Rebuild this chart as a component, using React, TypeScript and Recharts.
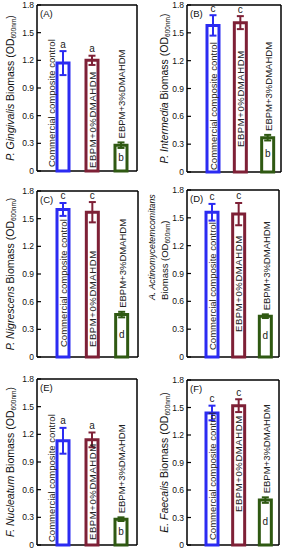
import React from 'react';
import { BarChart, Bar, XAxis, YAxis, ErrorBar, CartesianGrid, LabelList, Label } from 'recharts';

const groups = ['Commercial composite control', 'EBPM+0%DMAHDM', 'EBPM+3%DMAHDM'];
const yTicks = [0, 0.3, 0.6, 0.9, 1.2, 1.5, 1.8];
const panelTags = ['(A)', '(B)', '(C)', '(D)', '(E)', '(F)'];
const species = ['P. Gingivalis', 'P. Intermedia', 'P. Nigrescens', 'A. Actinomycetemcomitans', 'F. Nucleatum', 'E. Faecalis'];

// biomass OD600 means / std dev / significance letters
const meanA = [1.17, 1.2, 0.28];
const errA = [0.13, 0.05, 0.03];
const letA = ['a', 'a', 'b'];
const meanB = [1.58, 1.61, 0.37];
const errB = [0.11, 0.07, 0.03];
const letB = ['c', 'c', 'b'];
const meanC = [1.6, 1.57, 0.46];
const errC = [0.07, 0.11, 0.03];
const letC = ['c', 'c', 'd'];
const meanD = [1.56, 1.54, 0.44];
const errD = [0.09, 0.12, 0.02];
const letD = ['c', 'c', 'd'];
const meanE = [1.13, 1.14, 0.28];
const errE = [0.14, 0.08, 0.02];
const letE = ['a', 'a', 'b'];
const meanF = [1.44, 1.52, 0.49];
const errF = [0.08, 0.07, 0.03];
const letF = ['c', 'c', 'd'];

const means = [meanA, meanB, meanC, meanD, meanE, meanF];
const errs = [errA, errB, errC, errD, errE, errF];
const letters = [letA, letB, letC, letD, letE, letF];

const colors = ['#2b2bf2', '#7e2036', '#2f5912'];
const FONT = '"Liberation Sans", Arial, Helvetica, sans-serif';
const YW = 20;

// x0: panel column, L/R/T/B: plot frame in page px
const layout = [
  { x0: 0, L: 37, R: 137, T: 5, B: 171, padL: 11, padR: 2, labX: 10, blueDx: -12, blueGap: 4, redGap: 3 },
  { x0: 144, L: 187, R: 281, T: 5, B: 172, padL: 12, padR: 0, labX: 20, blueDx: 0, blueGap: 2, redGap: 25 },
  { x0: 0, L: 37, R: 138, T: 191, B: 357, padL: 11, padR: 2, labX: 10, blueDx: 0, blueGap: 10, redGap: 10 },
  { x0: 144, L: 187, R: 279, T: 190, B: 357, padL: 12, padR: 0, labX: 8, blueDx: 0, blueGap: 7, redGap: 25 },
  { x0: 0, L: 37, R: 137, T: 379, B: 545, padL: 11, padR: 2, labX: 10, blueDx: -12, blueGap: 3, redGap: 5 },
  { x0: 144, L: 187, R: 279, T: 380, B: 545, padL: 12, padR: 0, labX: 20, blueDx: 0, blueGap: 5, redGap: 33 },
];

function YLabel({ p, top, h }: { p: number; top: number; h: number }) {
  const lay = layout[p];
  const cy = top + h / 2;
  const tag = (
    <text x={lay.L - lay.x0 + 3} y={top + 8} fontSize={9.5} fontFamily={FONT} fill="#111" dominantBaseline="central">
      {panelTags[p]}
    </text>
  );
  const biomass = (
    <>
      <tspan> Biomass (OD</tspan>
      <tspan fontSize={6.5} dy={3}>600nm</tspan>
      <tspan dy={-3}>)</tspan>
    </>
  );
  if (p === 3) {
    // two-line label, both lines starting from the same point
    const sy = top + h - 57;
    return (
      <g>
        {tag}
        <text x={lay.labX} y={sy} transform={`rotate(-90 ${lay.labX} ${sy})`} textAnchor="start" dominantBaseline="central" fontSize={8.8} fontFamily={FONT} fill="#111">
          <tspan fontStyle="italic">{species[p]}</tspan>
        </text>
        <text x={lay.labX + 12} y={sy} transform={`rotate(-90 ${lay.labX + 12} ${sy})`} textAnchor="start" dominantBaseline="central" fontSize={9.5} fontFamily={FONT} fill="#111">
          {biomass}
        </text>
      </g>
    );
  }
  return (
    <g>
      {tag}
      <text x={lay.labX} y={cy} transform={`rotate(-90 ${lay.labX} ${cy})`} textAnchor="middle" dominantBaseline="central" fontSize={10.5} fontFamily={FONT} fill="#111">
        <tspan fontStyle="italic">{species[p]}</tspan>
        {biomass}
      </text>
    </g>
  );
}

function Panel({ p }: { p: number }) {
  const lay = layout[p];
  const m = means[p];
  const e = errs[p];
  const rows = groups.map((g, i) => ({ name: g, [`v${i}`]: m[i], [`e${i}`]: e[i] }));
  const h = lay.B - lay.T;

  const barLabel = (i: number) => (props: any) => {
    const { x, y, width, height } = props;
    if (!height || height <= 0) return null;
    const k = height / m[i];
    const cx = x + width / 2;
    const bottom = y + height;
    const errTop = y - e[i] * k;
    let tx = cx;
    let ty = bottom - lay.redGap;
    if (i === 0) {
      tx = cx + lay.blueDx;
      ty = bottom - lay.blueGap;
    } else if (i === 2) {
      tx = cx + 1;
      ty = errTop - 4;
    }
    const ly = i < 2 ? errTop - 7 : y + height / 2 - 1;
    return (
      <g>
        <text x={tx} y={ty} transform={`rotate(-90 ${tx} ${ty})`} textAnchor="start" dominantBaseline="central" fontSize={9.5} fontFamily={FONT} fill="#222" letterSpacing={i === 1 ? 0.6 : 0}>
          {groups[i]}
        </text>
        <text x={cx} y={ly} textAnchor="middle" dominantBaseline="central" fontSize={10} fontFamily={FONT} fill="#222">
          {letters[p][i]}
        </text>
      </g>
    );
  };

  return (
    <div style={{ position: 'absolute', left: lay.x0, top: lay.T - 5 }}>
      <BarChart
        width={144}
        height={h + 10}
        data={rows}
        barSize={12}
        margin={{ top: 5, bottom: 5, left: lay.L - lay.x0 - YW, right: lay.x0 + 144 - lay.R }}
      >
        <CartesianGrid
          stroke="#000"
          strokeWidth={1.5}
          horizontalCoordinatesGenerator={({ offset }: any) => [offset.top, offset.top + offset.height]}
          verticalCoordinatesGenerator={({ offset }: any) => [offset.left, offset.left + offset.width]}
        />
        <XAxis dataKey="name" hide padding={{ left: lay.padL, right: lay.padR }} />
        <YAxis
          type="number"
          domain={[0, 1.8]}
          ticks={yTicks}
          interval={0}
          width={YW}
          axisLine={false}
          tickSize={-4}
          tickMargin={7}
          tickLine={{ stroke: '#000', strokeWidth: 1.2 }}
          tick={{ fontSize: 8.5, fontFamily: FONT, fill: '#111' }}
          tickFormatter={(v: number) => (v === 0 ? '0' : v.toFixed(1))}
        >
          <Label content={() => <YLabel p={p} top={5} h={h} />} />
        </YAxis>
        {[0, 1, 2].map((i) => (
          <Bar key={i} dataKey={`v${i}`} stackId="s" fill="#fff" stroke={colors[i]} strokeWidth={3} isAnimationActive={false}>
            <ErrorBar dataKey={`e${i}`} width={3.5} strokeWidth={2} stroke={colors[i]} />
            <LabelList content={barLabel(i)} />
          </Bar>
        ))}
      </BarChart>
    </div>
  );
}

export default function App() {
  return (
    <div style={{ position: 'absolute', left: 0, top: 0, width: 288, height: 550, background: '#fff' }}>
      {[0, 1, 2, 3, 4, 5].map((p) => (
        <Panel key={p} p={p} />
      ))}
    </div>
  );
}
